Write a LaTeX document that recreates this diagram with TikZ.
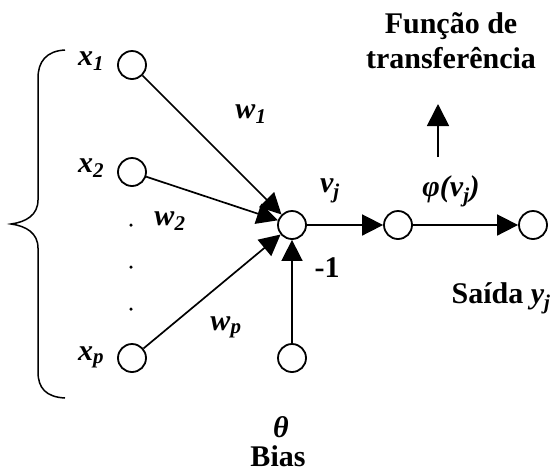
\documentclass[tikz,border=0pt]{standalone}
\usepackage{fontspec}
\setmainfont{Liberation Serif}
\usetikzlibrary{arrows.meta}
\newcommand\vsub[1]{\textsubscript{#1}}
\begin{document}
\begin{tikzpicture}[x=1pt,y=-1pt,
  neuron/.style={circle,draw,line width=1.8pt,minimum size=28pt,inner sep=0pt},
  conn/.style={line width=1.7pt,-{Triangle[length=21pt,width=21pt]}},
  lab/.style={font=\fontsize{30}{34}\selectfont\bfseries\itshape,inner sep=0pt,anchor=base},
  txt/.style={font=\fontsize{30}{34}\selectfont\bfseries,inner sep=0pt,anchor=base},
  dotnode/.style={circle,fill,inner sep=0pt,minimum size=3.5pt}]
\useasboundingbox (0,0) rectangle (556,475);
% nodes
\node[neuron] (x1) at (132,65) {};
\node[neuron] (x2) at (132,172) {};
\node[neuron] (xp) at (132,358) {};
\node[neuron] (s) at (292,225) {};
\node[neuron] (b) at (292,358) {};
\node[neuron] (f) at (398,225) {};
\node[neuron] (o) at (533,225) {};
\coordinate (tb) at (438,157);
\coordinate (tt) at (438,104);
% connectors
\draw[conn] (x1) -- (s);
\draw[conn] (x2) -- (s);
\draw[conn] (xp) -- (s);
\draw[conn] (b) -- (s);
\draw[conn] (s) -- (f);
\draw[conn] (f) -- (o);
\draw[conn,-{Triangle[length=22pt,width=22pt]}] (tb) -- (tt);
% dots
\node[dotnode] (d1) at (131,225) {};
\node[dotnode] (d2) at (131,267) {};
\node[dotnode] (d3) at (131,309) {};
% labels
\node[lab] (lx1) at (91,65) {x\vsub{1}};
\node[lab] (lx2) at (91,172) {x\vsub{2}};
\node[lab] (lxp) at (91,360) {x\vsub{p}};
\node[lab] (lw1) at (251,118) {w\vsub{1}};
\node[lab] (lw2) at (170,225) {w\vsub{2}};
\node[lab] (lwp) at (226,330) {w\vsub{p}};
\node[lab] (lv) at (330,192) {v\vsub{j}};
\node[lab] (lphi) at (451,196) {φ(v\vsub{j})};
\node[txt] (lm1) at (327,277) {-1};
\node[txt] (lsaida) at (501,303) {Saída \textit{y\vsub{j}}};
\node[lab] (ltheta) at (281,437) {θ};
\node[txt] (lbias) at (278,466) {Bias};
\node[txt] (lfunc1) at (451,33) {Função de};
\node[txt] (lfunc2) at (451,68) {transferência};
% brace
\draw[line width=1.5pt] (65,50) .. controls (46,51) and (38,62) .. (38,78) -- (38,200)
  .. controls (38,215) and (26,222) .. (11,224)
  .. controls (26,226) and (38,233) .. (38,248) -- (38,372)
  .. controls (38,388) and (46,397) .. (65,398);
\end{tikzpicture}
\end{document}
